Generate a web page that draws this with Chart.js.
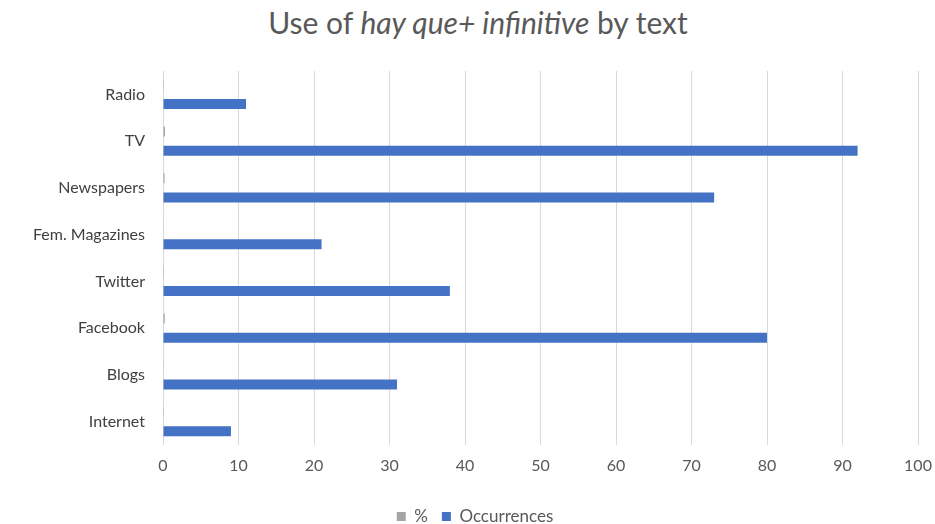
<!DOCTYPE html>
<html>
<head>
<meta charset="utf-8">
<script src="https://cdn.jsdelivr.net/npm/chart.js@4"></script>
<style>
  html, body { margin: 0; padding: 0; background: #fff; }
  #wrap { position: relative; width: 935px; height: 524px; }
  #title {
    position: absolute; top: 4px; left: 0; width: 956px; text-align: center;
    font-family: Lato, "Open Sans", sans-serif; font-size: 30px; color: #595959;
  }
  canvas { position: absolute; left: 0; top: 0; }
</style>
</head>
<body>
<div id="wrap">
  <div id="title">Use of <i>hay que+ infinitive</i> by text</div>
  <canvas id="chart" width="935" height="524"></canvas>
</div>
<script>
const categories = ['Radio', 'TV', 'Newspapers', 'Fem. Magazines', 'Twitter', 'Facebook', 'Blogs', 'Internet'];
const occurrences = [11, 92, 73, 21, 38, 80, 31, 9];
const percent = [0.03, 0.26, 0.21, 0.06, 0.11, 0.23, 0.09, 0.03];
const xTicks = [0, 10, 20, 30, 40, 50, 60, 70, 80, 90, 100];

// legend sits a bit right of centre in the original
const nudgeLegend = {
  id: 'nudgeLegend',
  afterLayout(chart) {
    chart.legend.left += 10;
    chart.legend.right += 10;
  }
};

const ctx = document.getElementById('chart').getContext('2d');
const chart = new Chart(ctx, {
  type: 'bar',
  data: {
    labels: categories,
    datasets: [{
      label: '%',
      data: percent,
      backgroundColor: '#a5a5a5',
      categoryPercentage: 0.82,
      barPercentage: 0.52
    }, {
      label: 'Occurrences',
      data: occurrences,
      backgroundColor: '#4472c4',
      categoryPercentage: 0.82,
      barPercentage: 0.52
    }]
  },
  options: {
    indexAxis: 'y',
    responsive: false,
    animation: false,
    layout: { padding: { top: 71, right: 17, left: 12, bottom: -11 } },
    scales: {
      x: {
        min: 0, max: 100,
        afterBuildTicks: (axis) => { axis.ticks = xTicks.map(v => ({ value: v })); },
        afterFit: (axis) => {
          axis.height = 49;
          axis.paddingLeft = 0;
          axis.paddingRight = 0;
        },
        grid: { color: '#d9d9d9', drawTicks: false },
        border: { display: false },
        ticks: { color: '#595959', font: { family: 'Lato', size: 16 }, padding: 11 }
      },
      y: {
        afterFit: (axis) => { axis.width = 151; },
        grid: { display: false, drawTicks: false },
        border: { display: false },
        ticks: { color: '#404040', font: { family: 'Lato', size: 16 }, padding: 18 }
      }
    },
    plugins: {
      legend: {
        position: 'bottom',
        labels: {
          color: '#595959',
          font: { family: 'Lato', size: 17 },
          boxWidth: 9, boxHeight: 9,
          padding: 14
        }
      },
      tooltip: { enabled: false }
    }
  },
  plugins: [nudgeLegend]
});
</script>
</body>
</html>
